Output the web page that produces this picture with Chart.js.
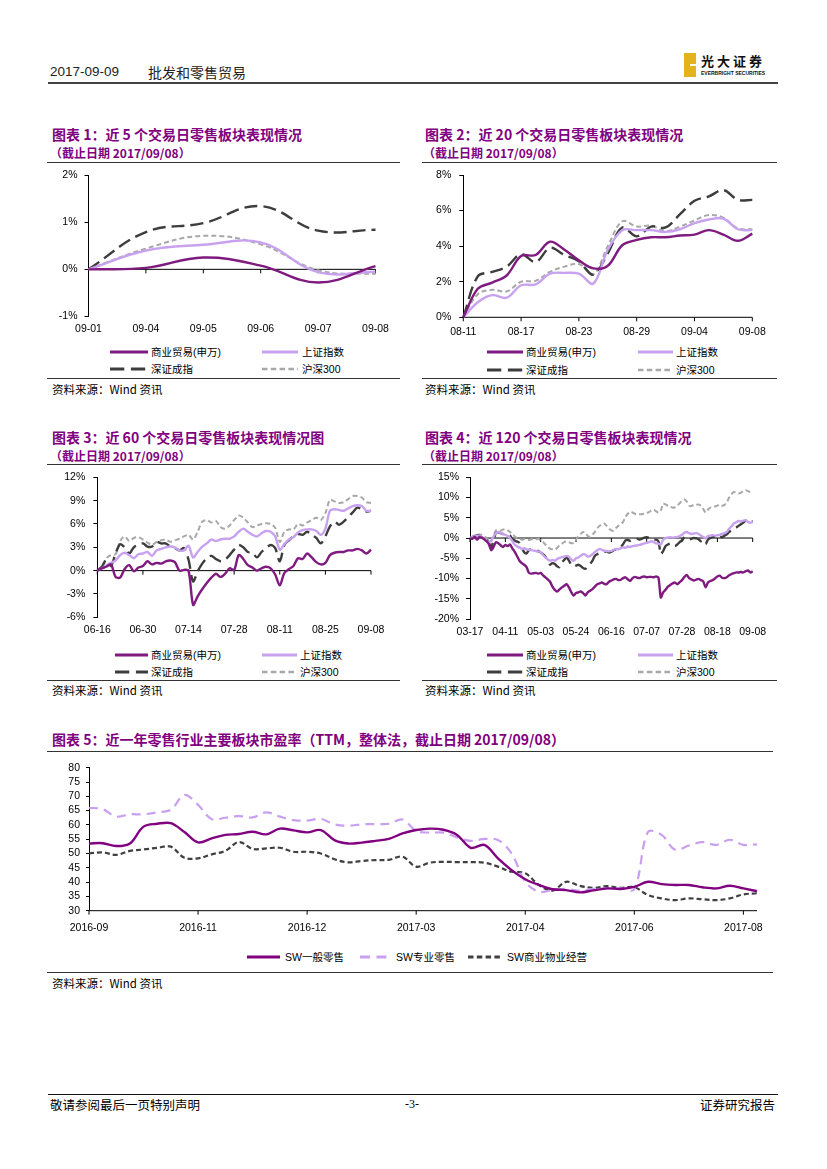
<!DOCTYPE html>
<html lang="zh-CN">
<head>
<meta charset="UTF-8">
<meta name="viewport" content="width=827">
<title>批发和零售贸易</title>
<script src="https://cdn.jsdelivr.net/npm/chart.js@4.4.1/dist/chart.umd.min.js"></script>
<style>
  html, body { margin: 0; padding: 0; background: #fff; }
  body { position: relative; width: 827px; height: 1169px; overflow: hidden; color: #000;
         font-family: "Liberation Sans", "Noto Sans CJK SC", sans-serif; }
  .abs { position: absolute; white-space: nowrap; }
  .rule { position: absolute; height: 0; border-top: 1.5px solid #333; }
  .ttl { font-family: "Noto Sans CJK SC", sans-serif; font-weight: 700; color: #800080; font-size: 14px; line-height: 18px; }
  .sub { font-family: "Noto Sans CJK SC", sans-serif; font-weight: 700; color: #800080; font-size: 12px; line-height: 16px; }
  .src { font-family: "Noto Sans CJK SC", sans-serif; font-size: 11.5px; line-height: 14px; }
  .lg { font-family: "Liberation Sans", "Noto Sans CJK SC", sans-serif; font-size: 10.5px; line-height: 14px; }
  canvas { position: absolute; }
</style>
</head>
<body>
<!-- page header -->
<div class="abs" style="left:50px;top:63px;font-size:13.5px;line-height:18px;color:#222;">2017-09-09</div>
<div class="abs" style="left:148px;top:63px;font-size:14px;line-height:18px;color:#222;font-family:'Noto Sans CJK SC';">批发和零售贸易</div>
<div class="rule" style="left:48px;top:82px;width:730px;border-top:2px solid #444;"></div>
<div class="abs" style="left:684px;top:53px;width:12px;height:24px;background:#e3b31f;"></div>
<div class="abs" style="left:690px;top:64px;width:6px;height:2px;background:#fff;"></div>
<div class="abs" style="left:701px;top:53px;font-family:'Noto Sans CJK SC';font-weight:700;font-size:13px;line-height:16px;letter-spacing:3px;color:#111;">光大证券</div>
<div class="abs" style="left:701px;top:70px;font-size:5px;line-height:6px;font-weight:700;color:#111;">EVERBRIGHT SECURITIES</div>

<!-- section titles -->
<div class="abs ttl" style="left:52px;top:125px;">图表 1：近 5 个交易日零售板块表现情况</div>
<div class="abs sub" style="left:50px;top:145px;">（截止日期 2017/09/08）</div>
<div class="abs ttl" style="left:425px;top:125px;">图表 2：近 20 个交易日零售板块表现情况</div>
<div class="abs sub" style="left:423px;top:145px;">（截止日期 2017/09/08）</div>
<div class="abs ttl" style="left:52px;top:428px;">图表 3：近 60 个交易日零售板块表现情况图</div>
<div class="abs sub" style="left:50px;top:448px;">（截止日期 2017/09/08）</div>
<div class="abs ttl" style="left:425px;top:428px;">图表 4：近 120 个交易日零售板块表现情况</div>
<div class="abs sub" style="left:423px;top:448px;">（截止日期 2017/09/08）</div>
<div class="abs ttl" style="left:52px;top:730px;">图表 5：近一年零售行业主要板块市盈率（TTM，整体法，截止日期 2017/09/08）</div>

<div class="rule" style="left:47px;top:162px;width:353px;"></div>
<div class="rule" style="left:47px;top:378px;width:353px;"></div>
<div class="rule" style="left:422px;top:162px;width:355px;"></div>
<div class="rule" style="left:422px;top:378px;width:355px;"></div>
<div class="rule" style="left:47px;top:464px;width:353px;"></div>
<div class="rule" style="left:47px;top:680px;width:353px;"></div>
<div class="rule" style="left:422px;top:464px;width:355px;"></div>
<div class="rule" style="left:422px;top:680px;width:355px;"></div>
<div class="rule" style="left:47px;top:751px;width:726px;"></div>
<div class="rule" style="left:47px;top:972px;width:726px;"></div>

<div class="abs src" style="left:52px;top:382px;">资料来源：Wind 资讯</div>
<div class="abs src" style="left:425px;top:382px;">资料来源：Wind 资讯</div>
<div class="abs src" style="left:52px;top:683px;">资料来源：Wind 资讯</div>
<div class="abs src" style="left:425px;top:683px;">资料来源：Wind 资讯</div>
<div class="abs src" style="left:52px;top:976px;">资料来源：Wind 资讯</div>

<!-- page footer -->
<div class="rule" style="left:48px;top:1094px;width:730px;border-top:1.5px solid #111;"></div>
<div class="abs" style="left:50px;top:1097px;font-family:'Noto Sans CJK SC';font-size:12.5px;line-height:15px;">敬请参阅最后一页特别声明</div>
<div class="abs" style="left:405px;top:1097px;font-size:12px;line-height:15px;font-family:'Liberation Serif';">-3-</div>
<div class="abs" style="left:700px;top:1097px;font-family:'Noto Sans CJK SC';font-size:12.5px;line-height:15px;">证券研究报告</div>

<script>
// ---- 图表1 近5个交易日 (%)
const c1Dates = ['09-01', '09-04', '09-05', '09-06', '09-07', '09-08'];
const c1Trade = [0, 0.03, 0.25, 0.08, -0.28, 0.07];
const c1SH = [0, 0.40, 0.52, 0.57, -0.06, -0.05];
const c1SZ = [0, 0.79, 0.98, 1.34, 0.82, 0.84];
const c1HS = [0, 0.44, 0.71, 0.53, -0.02, -0.10];

// ---- 图表2 近20个交易日 (%)
const c2Dates = ['08-11', '08-14', '08-15', '08-16', '08-17', '08-18', '08-21', '08-22', '08-23', '08-24', '08-25',
                 '08-28', '08-29', '08-30', '08-31', '09-01', '09-04', '09-05', '09-06', '09-07', '09-08'];
const c2Trade = [0, 1.6, 1.95, 2.35, 3.45, 3.5, 4.25, 3.8, 3.2, 2.75, 2.9, 4.05, 4.35, 4.5, 4.5, 4.6, 4.65, 4.9, 4.65, 4.3, 4.7];
const c2SH = [0, 0.85, 1.25, 1.1, 1.8, 1.85, 2.45, 2.5, 2.45, 1.9, 3.8, 4.9, 4.9, 4.9, 4.8, 4.95, 5.3, 5.5, 5.55, 4.95, 4.9];
const c2SZ = [0, 2.3, 2.55, 2.85, 3.55, 3.1, 3.9, 3.5, 3.15, 2.4, 3.6, 5.05, 4.55, 5.1, 5.05, 5.8, 6.55, 6.8, 7.15, 6.6, 6.6];
const c2HS = [0, 1.3, 1.55, 1.45, 2.0, 2.05, 2.55, 2.85, 3.0, 2.4, 4.0, 5.4, 5.1, 5.15, 4.85, 5.1, 5.45, 5.75, 5.6, 5.0, 4.95];

// ---- 图表3 近60个交易日 (%), 每10个交易日一个刻度
const c3Ticks = ['06-16', '06-30', '07-14', '07-28', '08-11', '08-25', '09-08'];
const c3Trade = [0, 0.3, 0.5, 0.8, -0.8, -0.9, 0.2, 0.7, -0.1, 0.4, 0.6,
                 1.2, 0.8, 1.0, 0.9, 1.2, 1.3, 1.1, 0.0, 0.1, 0.0,
                 -4.4, -3.3, -2.4, -1.6, -0.9, -0.4, -0.8, -0.4, 0.3, 0.1,
                 2.0, 1.5, 0.7, 0.4, 0.0, 0.3, 0.5, 0.3, -0.5, -1.9,
                 -0.3, 0.2, 0.6, 1.6, 1.5, 2.2, 1.7, 1.1, 0.8, 1.0,
                 2.0, 2.3, 2.4, 2.4, 2.6, 2.6, 2.8, 2.6, 2.2, 2.7];
const c3SH = [0, 0.3, 0.7, 1.0, 1.3, 2.0, 2.3, 2.0, 1.6, 2.1, 2.2,
              2.4, 1.9, 2.6, 2.8, 3.0, 3.1, 3.0, 2.6, 2.6, 3.2,
              1.7, 2.4, 3.1, 3.5, 4.0, 3.8, 4.0, 4.1, 4.1, 4.4,
              5.0, 5.4, 5.0, 4.6, 4.4, 4.8, 5.1, 5.0, 4.4, 2.7,
              3.4, 4.0, 4.3, 4.9, 5.2, 5.3, 5.3, 5.1, 4.6, 5.4,
              7.7, 7.9, 7.8, 7.7, 8.0, 8.3, 8.4, 8.3, 7.7, 7.7];
const c3SZ = [0, 0.5, 1.4, 0.6, 2.2, 3.4, 3.0, 2.2, 3.0, 3.3, 3.5,
              3.1, 3.1, 3.7, 3.5, 3.5, 3.1, 2.9, 2.6, 2.9, 1.4,
              -1.4, -0.1, 0.9, 1.6, 1.9, 1.5, 1.2, 1.4, 2.0, 2.7,
              3.3, 3.0, 2.4, 2.3, 1.7, 2.4, 2.9, 3.3, 2.9, 1.2,
              3.3, 3.9, 4.4, 4.7, 4.6, 5.0, 4.6, 4.2, 3.5, 4.4,
              5.7, 6.3, 5.9, 6.3, 6.9, 7.5, 8.1, 7.9, 7.6, 7.7];
const c3HS = [0, 0.6, 1.6, 2.0, 2.1, 3.8, 4.4, 3.8, 4.2, 4.3, 4.0,
              3.6, 3.3, 3.7, 3.9, 4.0, 3.7, 3.9, 4.1, 4.4, 4.6,
              4.0, 5.0, 6.3, 6.5, 6.2, 6.4, 5.6, 5.4, 5.8, 6.5,
              7.1, 6.8, 6.2, 5.6, 5.8, 6.0, 6.1, 6.0, 5.5, 3.7,
              5.0, 5.3, 5.3, 6.0, 5.8, 6.2, 6.5, 6.8, 6.5, 7.4,
              9.1, 8.9, 8.7, 8.8, 9.2, 9.6, 9.6, 9.4, 8.8, 8.7];

// ---- 图表4 近120个交易日 (%), 每15个交易日一个刻度
const c4Ticks = ['03-17', '04-11', '05-03', '05-24', '06-16', '07-07', '07-28', '08-18', '09-08'];
const c4Trade = [0, -0.2, 0.3, -0.4, 0.2, 0.1, -0.3, -0.8, -1.5, -3.0,
                 -2.2, -1.0, -1.3, -1.8, -2.2, -1.7, -2.0, -1.6, -2.6, -3.4,
                 -4.5, -5.6, -6.2, -6.6, -7.2, -8.6, -8.8, -8.7, -8.6, -8.8,
                 -8.6, -9.2, -9.7, -10.2, -10.8, -12.0, -12.8, -13.2, -12.7, -12.2,
                 -11.8, -11.4, -12.2, -13.4, -14.2, -13.6, -13.4, -13.2, -13.6, -14.2,
                 -13.4, -13.0, -12.6, -12.0, -11.4, -11.2, -11.0, -11.3, -11.4, -10.8,
                 -10.5, -10.2, -10.1, -10.4, -10.3, -9.9, -9.7, -10.2, -10.6, -9.9,
                 -9.6, -9.8, -9.9, -9.6, -9.5, -9.7, -9.6, -9.6, -9.7, -9.5,
                 -9.8, -14.7, -13.4, -12.8, -12.0, -11.6, -11.2, -11.0, -11.4, -10.9,
                 -10.4, -9.6, -9.1, -9.9, -10.2, -10.5, -10.3, -10.1, -10.4, -10.7,
                 -12.2, -11.0, -10.6, -10.4, -10.0, -9.5, -9.3, -9.8, -9.9, -9.7,
                 -9.2, -8.9, -8.7, -8.5, -8.5, -8.4, -8.5, -8.2, -8.0, -8.5,
                 -8.2];
const c4SH = [0, 0.2, 0.5, 0.6, 0.4, 0.3, -0.2, -0.8, -1.0, -0.6,
              0.4, 1.2, 1.5, 1.3, 1.0, 0.8, 0.5, 0.0, -0.8, -1.6,
              -2.1, -2.3, -2.7, -2.5, -2.8, -2.9, -3.0, -3.1, -3.2, -3.3,
              -3.5, -4.2, -4.8, -5.3, -5.6, -5.4, -5.6, -5.2, -4.9, -4.7,
              -4.6, -4.4, -4.6, -5.3, -5.6, -5.0, -4.8, -4.4, -4.0, -4.1,
              -4.6, -4.4, -4.0, -3.5, -3.0, -2.7, -2.9, -3.1, -3.2, -3.3,
              -3.2, -2.9, -2.7, -2.8, -2.5, -2.3, -2.4, -2.1, -2.2, -2.0,
              -1.9, -1.8, -1.7, -1.5, -1.3, -1.2, -1.0, -0.8, -1.0, -1.3,
              -1.4, -1.6, -0.4, 0.0, 0.1, 0.2, 0.1, 0.2, 0.3, 0.5,
              0.8, 1.3, 1.5, 1.2, 1.0, 1.1, 1.2, 1.0, 0.6, 0.3,
              -0.1, 0.5, 0.6, 0.7, 0.6, 0.7, 0.8, 1.0, 1.2, 1.5,
              2.3, 2.9, 3.6, 3.9, 4.2, 4.1, 4.3, 4.4, 4.0, 3.8,
              3.9];
const c4SZ = [0, 0.2, 0.5, 0.7, 0.5, 0.2, -0.3, -0.4, -1.2, -2.3,
              -0.5, 1.3, 1.4, 1.2, 1.0, 0.9, 0.8, 0.6, -0.3, -0.6,
              -0.9, -1.2, -2.4, -3.5, -3.8, -3.0, -2.8, -3.1, -3.3, -3.2,
              -3.6, -4.0, -4.6, -5.8, -6.6, -6.2, -6.4, -7.0, -7.2, -6.0,
              -5.4, -4.8, -5.6, -6.6, -7.0, -6.8, -6.6, -6.9, -7.4, -7.6,
              -7.0, -6.4, -5.6, -4.4, -4.0, -3.8, -3.6, -3.4, -3.3, -3.6,
              -3.4, -3.0, -2.8, -2.6, -2.2, -1.5, -0.6, -0.5, -0.7, -0.5,
              -0.3, -0.2, -0.4, -0.2, 0.1, 0.2, 0.0, -0.3, -0.5, -0.4,
              -0.8, -4.0, -3.2, -2.0, -1.6, -1.4, -1.7, -2.0, -1.6, -1.0,
              -0.6, 0.2, 0.0, -0.3, -0.2, 0.0, -0.1, -0.3, -0.8, -0.6,
              -1.5, -0.4, 0.0, 0.2, 0.4, 0.8, 0.5, 0.2, 0.6, 0.9,
              1.5, 2.0, 2.3, 2.6, 3.0, 3.4, 3.8, 4.3, 4.4, 4.0,
              4.2];
const c4HS = [0, 0.3, 0.5, 0.8, 0.9, 0.8, 0.4, 0.0, -0.5, -0.8,
              0.6, 1.9, 2.0, 1.8, 2.1, 2.2, 1.9, 1.5, 1.0, 0.4,
              0.0, -0.2, -0.4, -0.3, -0.4, -0.5, -0.3, -0.2, -0.3, -0.2,
              -0.6, -1.0, -1.6, -2.3, -2.6, -2.8, -2.9, -2.4, -1.8, -1.4,
              -1.0, -0.8, -1.0, -1.3, -1.2, -0.4, 0.5, 1.0, 1.5, 1.3,
              0.5, 0.3, 0.8, 1.5, 2.4, 3.0, 3.5, 3.6, 3.0, 2.3,
              1.9, 1.8, 2.5, 3.0, 3.4, 4.0, 5.2, 6.0, 6.5, 6.3,
              6.0, 5.8, 5.9, 5.9, 6.0, 6.2, 6.4, 6.8, 7.0, 6.6,
              6.3, 6.8, 8.5, 8.3, 8.0, 7.8, 7.5, 7.6, 8.0, 8.6,
              9.2, 9.5, 9.0, 8.0, 7.9, 8.2, 8.2, 8.3, 8.0, 7.2,
              6.3, 7.0, 7.5, 7.6, 7.8, 8.0, 8.3, 8.0, 8.2, 8.8,
              10.0, 10.8, 11.4, 11.2, 11.0, 11.2, 11.6, 11.8, 11.6, 11.3,
              11.0];

// ---- 图表5 近一年市盈率 (TTM), 每8期一个刻度
const c5Ticks = ['2016-09', '2016-11', '2016-12', '2017-03', '2017-04', '2017-06', '2017-08'];
const c5General = [53.5, 53.6, 52.6, 53.5, 59.4, 60.4, 60.6, 57.5, 53.9, 55.3,
                   56.5, 56.8, 57.6, 56.7, 58.7, 58.1, 57.4, 58.2, 54.7, 53.5,
                   53.8, 54.4, 55.1, 57.0, 58.2, 58.7, 58.3, 56.5, 52.0, 53.0,
                   48.3, 44.2, 41.0, 39.0, 37.5, 37.2, 36.4, 37.1, 37.8, 37.6,
                   38.3, 40.1, 39.3, 39.0, 39.0, 38.2, 37.8, 38.7, 37.8, 36.8];
const c5Special = [66.0, 65.5, 62.9, 63.7, 63.7, 64.4, 65.3, 70.5, 67.0, 62.0,
                   62.5, 63.1, 62.6, 64.4, 62.9, 61.7, 61.5, 62.1, 60.2, 59.7,
                   60.2, 60.3, 60.4, 61.9, 57.9, 57.3, 57.3, 55.6, 54.4, 55.1,
                   54.7, 50.0, 40.1, 36.6, 37.2, 37.6, 37.0, 37.6, 37.8, 37.8,
                   37.5, 57.5, 56.5, 51.3, 52.8, 54.0, 53.0, 54.8, 53.0, 53.2];
const c5Property = [50.0, 50.4, 49.5, 50.9, 51.4, 52.0, 52.4, 48.5, 48.3, 49.7,
                    50.9, 54.0, 51.6, 51.8, 52.0, 50.6, 50.6, 50.0, 48.0, 46.9,
                    47.4, 47.7, 47.8, 48.9, 45.4, 46.8, 47.1, 47.0, 47.0, 46.8,
                    45.4, 43.6, 43.1, 39.0, 37.0, 40.1, 38.7, 38.0, 38.6, 38.0,
                    38.2, 35.5, 34.3, 33.7, 34.3, 34.0, 33.7, 34.3, 35.7, 36.1];

Chart.defaults.font.family = '"Liberation Sans", "Noto Sans CJK SC", sans-serif';
Chart.defaults.font.size = 10.5;
Chart.defaults.color = '#000';

// x 轴画在 0 值（或最小值）处，刻度线朝下
const baseAxis = {
    id: 'baseAxis',
    beforeDatasetsDraw(chart, args, o) {
        const {ctx, chartArea, scales} = chart;
        const y = scales.y.getPixelForValue(o.value);
        ctx.save();
        ctx.strokeStyle = '#000';
        ctx.lineWidth = 1;
        ctx.beginPath();
        ctx.moveTo(chartArea.left, y);
        ctx.lineTo(chartArea.right, y);
        o.ticks.forEach(function(i) {
            const x = scales.x.getPixelForValue(i);
            ctx.moveTo(x, y);
            ctx.lineTo(x, y + 4);
        });
        ctx.stroke();
        ctx.restore();
    }
};

function spread(tickLabels, step, n) {
    return Array.from({length: n}, (_, i) => i % step === 0 ? tickLabels[i / step] : '');
}

function line(label, data, sty, tension) {
    return Object.assign({label: label, data: data, pointRadius: 0, pointHoverRadius: 0, fill: false, tension: tension}, sty);
}

function drawLine(o) {
    const b = o.box;
    const left = Math.floor(b.L - b.yW), top = Math.floor(b.T - b.pt);
    const width = Math.ceil(b.R + b.pr) - left, height = Math.ceil(b.B + b.xH) - top;
    const cv = document.createElement('canvas');
    cv.width = width; cv.height = height;
    cv.style.left = left + 'px'; cv.style.top = top + 'px';
    cv.style.width = width + 'px'; cv.style.height = height + 'px';
    document.body.appendChild(cv);
    const yWidth = b.L - left, xHeight = top + height - b.B;

    return new Chart(cv, {
        type: 'line',
        data: {labels: o.labels, datasets: o.datasets},
        plugins: [baseAxis],
        options: {
            responsive: false,
            animation: false,
            events: [],
            layout: {padding: {left: 0, top: b.T - top, right: left + width - b.R, bottom: 0}},
            plugins: {
                legend: {display: false},
                tooltip: {enabled: false},
                baseAxis: {value: o.base, ticks: o.tickIdx}
            },
            scales: {
                x: {
                    type: 'category',
                    ticks: {autoSkip: false, maxRotation: 0, minRotation: 0, padding: b.xPad},
                    grid: {display: false, drawTicks: false},
                    border: {display: false},
                    afterBuildTicks: s => { s.ticks = s.ticks.filter(t => o.tickIdx.includes(t.value)); },
                    afterFit: s => { s.height = xHeight; s.paddingLeft = 0; s.paddingRight = 0; }
                },
                y: {
                    min: o.yMin, max: o.yMax,
                    ticks: {stepSize: o.yStep, autoSkip: false, padding: b.yPad, callback: v => v + o.suffix},
                    grid: {drawOnChartArea: false, drawTicks: true, tickLength: b.tl, color: '#000'},
                    border: {display: true, color: '#000', width: 1},
                    afterFit: s => { s.width = yWidth; s.paddingTop = 0; s.paddingBottom = 0; }
                }
            }
        }
    });
}

function legend(items) {
    items.forEach(function(it) {
        const d = it[0], x1 = it[1], x2 = it[2], tx = it[3], y = it[4];
        const w = x2 - x1;
        const dash = d.borderDash ? d.borderDash.map(v => v * 1.1).join(',') : 'none';
        document.body.insertAdjacentHTML('beforeend',
            '<svg class="abs" style="left:' + x1 + 'px;top:' + (y - 3) + 'px" width="' + w + '" height="6">' +
            '<line x1="0" y1="3" x2="' + w + '" y2="3" stroke="' + d.borderColor + '" stroke-width="' + (d.borderWidth + 0.6) +
            '" stroke-dasharray="' + dash + '"/></svg>' +
            '<div class="abs lg" style="left:' + tx + 'px;top:' + (y - 7) + 'px">' + d.label + '</div>');
    });
}

const TRADE = {borderColor: '#7f1a7f', borderWidth: 2.4};
const SH = {borderColor: '#c8a2ef', borderWidth: 2.4};
const SZ = {borderColor: '#3d3d3d', borderWidth: 2.4, borderDash: [13, 6]};
const HS = {borderColor: '#a8a8a8', borderWidth: 2, borderDash: [5, 3]};

function indexSet(series, tension) {
    return [
        line('商业贸易(申万)', series[0], TRADE, tension),
        line('上证指数', series[1], SH, tension),
        line('深证成指', series[2], SZ, tension),
        line('沪深300', series[3], HS, tension)
    ];
}

// 图表1
const d1 = indexSet([c1Trade, c1SH, c1SZ, c1HS], 0.4);
drawLine({
    box: {L: 88.5, R: 375.5, T: 175, B: 316.5, yW: 40, pt: 10, pr: 22, xH: 24, xPad: 6, yPad: 7, tl: 4},
    labels: c1Dates, datasets: d1, tickIdx: [0, 1, 2, 3, 4, 5], base: 0,
    yMin: -1, yMax: 2, yStep: 1, suffix: '%'
});
legend([[d1[0], 110, 148, 151, 352], [d1[1], 262, 298, 302, 352], [d1[2], 110, 148, 151, 369], [d1[3], 262, 298, 302, 369]]);

// 图表2
const d2 = indexSet([c2Trade, c2SH, c2SZ, c2HS], 0.35);
drawLine({
    box: {L: 463.3, R: 752.3, T: 175, B: 317.3, yW: 40, pt: 10, pr: 22, xH: 24, xPad: 9, yPad: 8, tl: 4},
    labels: c2Dates, datasets: d2, tickIdx: [0, 4, 8, 12, 16, 20], base: 0,
    yMin: 0, yMax: 8, yStep: 2, suffix: '%'
});
legend([[d2[0], 487, 523, 526, 352], [d2[1], 638, 673, 676, 352], [d2[2], 487, 523, 526, 370], [d2[3], 638, 673, 676, 370]]);

// 图表3
const d3 = indexSet([c3Trade, c3SH, c3SZ, c3HS], 0.3);
drawLine({
    box: {L: 97.3, R: 371, T: 477.3, B: 617.3, yW: 45, pt: 10, pr: 22, xH: 24, xPad: 7, yPad: 8, tl: 4},
    labels: spread(c3Ticks, 10, c3Trade.length), datasets: d3, tickIdx: [0, 10, 20, 30, 40, 50, 60], base: 0,
    yMin: -6, yMax: 12, yStep: 3, suffix: '%'
});
legend([[d3[0], 115, 148, 151, 655], [d3[1], 262, 297, 300, 655], [d3[2], 115, 148, 151, 672], [d3[3], 262, 297, 300, 672]]);

// 图表4
const d4 = indexSet([c4Trade, c4SH, c4SZ, c4HS], 0.25);
drawLine({
    box: {L: 470, R: 752.7, T: 477.3, B: 619, yW: 48, pt: 10, pr: 22, xH: 24, xPad: 7, yPad: 7, tl: 4},
    labels: spread(c4Ticks, 15, c4Trade.length), datasets: d4, tickIdx: [0, 15, 30, 45, 60, 75, 90, 105, 120], base: 0,
    yMin: -20, yMax: 15, yStep: 5, suffix: '%'
});
legend([[d4[0], 487, 523, 526, 655], [d4[1], 638, 673, 676, 655], [d4[2], 487, 523, 526, 672], [d4[3], 638, 673, 676, 672]]);

// 图表5
const d5 = [
    line('SW一般零售', c5General, {borderColor: '#800080', borderWidth: 2.4}, 0.35),
    line('SW专业零售', c5Special, {borderColor: '#c9a0f0', borderWidth: 2.2, borderDash: [9, 6]}, 0.35),
    line('SW商业物业经营', c5Property, {borderColor: '#404040', borderWidth: 2.2, borderDash: [5, 3]}, 0.35)
];
drawLine({
    box: {L: 89, R: 757, T: 767.7, B: 910.7, yW: 40, pt: 10, pr: 25, xH: 28, xPad: 11, yPad: 6, tl: 3},
    labels: spread(c5Ticks, 8, c5General.length), datasets: d5, tickIdx: [0, 8, 16, 24, 32, 40, 48], base: 30,
    yMin: 30, yMax: 80, yStep: 5, suffix: ''
});
legend([[d5[0], 247, 280, 285, 957], [d5[1], 360, 393, 396, 957], [d5[2], 468, 503, 507, 957]]);
</script>
</body>
</html>
